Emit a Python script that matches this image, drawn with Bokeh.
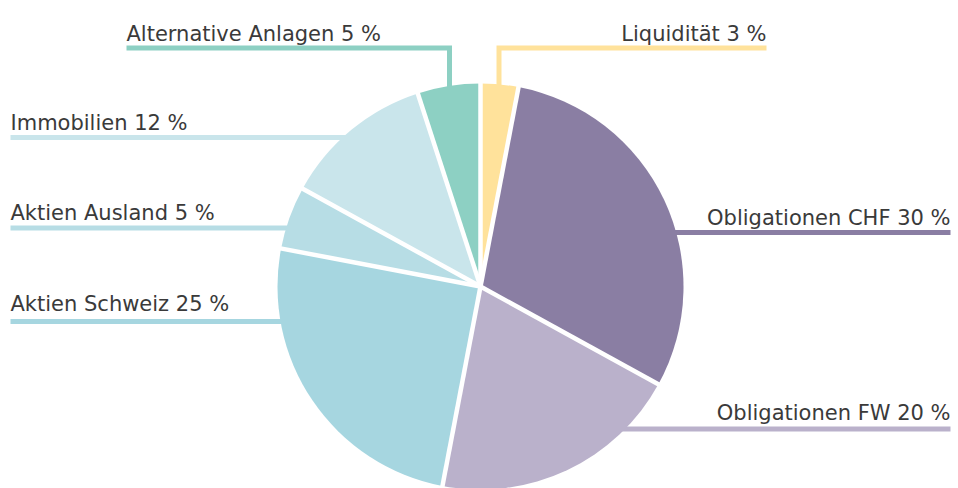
import numpy as np
from bokeh.plotting import figure
from bokeh.models import Range1d, ColumnDataSource
from bokeh.core.properties import value
from bokeh.embed import file_html
from bokeh.resources import INLINE

# ---- data ----
categories = ["Liquidität", "Obligationen CHF", "Obligationen FW", "Aktien Schweiz",
              "Aktien Ausland", "Immobilien", "Alternative Anlagen"]
shares = [3, 30, 20, 25, 5, 12, 5]
colors = ["#FFE29B", "#8A7EA3", "#BAB1CB", "#A6D6E0", "#B7DDE5", "#C9E5EB", "#8DD0C3"]

# ---- layout (page pixel coords, y downward) ----
W, H = 958, 488
CX, CY, R = 480, 286, 203
label_x = [766, 950, 950, 10, 10, 10, 126]
label_y = [33, 217, 412, 303, 212, 122, 33]
label_align = ["right", "right", "right", "left", "left", "left", "left"]
leader_xs = [[766, 498.5, 498.5], [950, 560], [950, 560], [10, 400], [10, 400], [10, 400],
             [126, 449, 449]]
leader_ys = [[47.5, 47.5, 110], [232, 232], [428.5, 428.5], [321, 321], [227.5, 227.5],
             [137, 137], [47.5, 47.5, 110]]

p = figure(width=W, height=H, output_backend="svg", toolbar_location=None,
           x_range=Range1d(0, W), y_range=Range1d(-H, 0),
           x_axis_location=None, y_axis_location=None, min_border=0)
p.grid.visible = False
p.outline_line_color = None
p.background_fill_color = "white"
p.border_fill_color = "white"

# leader lines (under the pie)
p.multi_line(xs=leader_xs, ys=[[-v for v in ys] for ys in leader_ys],
             line_color=colors, line_width=5, line_join="miter", line_cap="butt")

# pie
frac = np.array(shares, dtype=float) / sum(shares)
cum = np.concatenate([[0], np.cumsum(frac)])
start = np.pi / 2 - 2 * np.pi * cum[:-1]
end = np.pi / 2 - 2 * np.pi * cum[1:]
src = ColumnDataSource(dict(start=start, end=end, color=colors))
p.wedge(x=CX, y=-CY, radius=R, start_angle="start", end_angle="end",
        direction="clock", fill_color="color", line_color=None, source=src)

# white separators
b = start
p.segment(x0=[CX] * len(b), y0=[-CY] * len(b),
          x1=list(CX + (R + 2) * np.cos(b)), y1=list(-CY + (R + 2) * np.sin(b)),
          line_color="white", line_width=4.5)

# labels
labels = [f"{c} {v} %" for c, v in zip(categories, shares)]
lsrc = ColumnDataSource(dict(x=label_x, y=[-v for v in label_y], text=labels, align=label_align))
p.text(x="x", y="y", text="text", text_align="align", text_baseline="alphabetic",
       text_font=value("DejaVu Sans"), text_font_size="21px", text_color="#3a3a3a",
       source=lsrc)

open("out.html", "w").write(file_html(p, INLINE))
